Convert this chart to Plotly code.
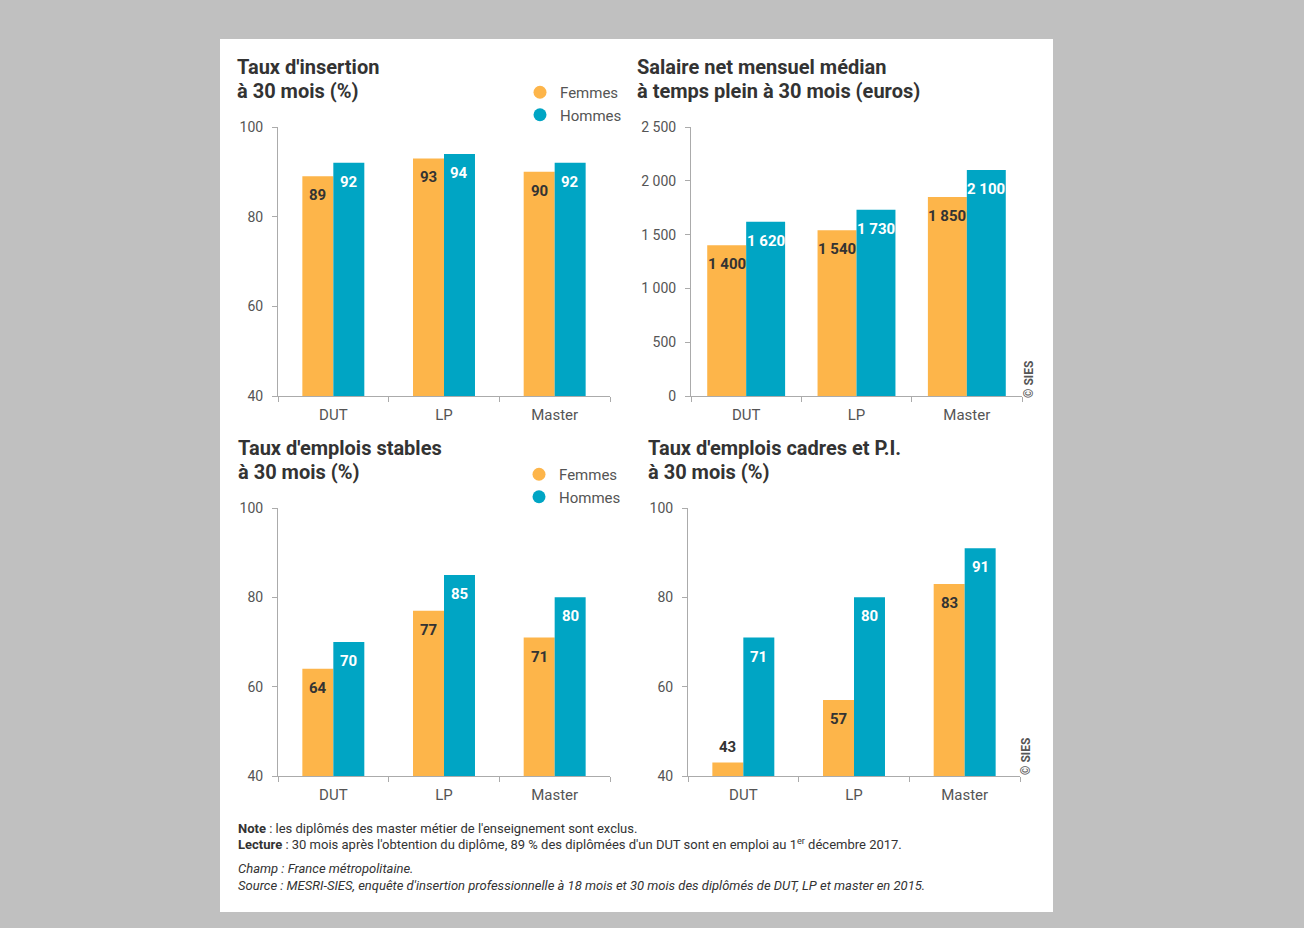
import plotly.graph_objects as go

# ---------------- data ----------------
categories = ["DUT", "LP", "Master"]
insertion_femmes = [89, 93, 90]
insertion_hommes = [92, 94, 92]
salaire_femmes = [1400, 1540, 1850]
salaire_hommes = [1620, 1730, 2100]
stables_femmes = [64, 77, 71]
stables_hommes = [70, 85, 80]
cadres_femmes = [43, 57, 83]
cadres_hommes = [71, 80, 91]

series_names = ["Femmes", "Hommes"]
titles = [
    ["Taux d'insertion", "à 30 mois (%)"],
    ["Salaire net mensuel médian", "à temps plein à 30 mois (euros)"],
    ["Taux d'emplois stables", "à 30 mois (%)"],
    ["Taux d'emplois cadres et P.I.", "à 30 mois (%)"],
]
footer_lines = [
    "<b>Note</b> : les diplômés des master métier de l'enseignement sont exclus.",
    "<b>Lecture</b> : 30 mois après l'obtention du diplôme, 89 % des diplômées d'un DUT sont en emploi au 1<sup>er</sup> décembre 2017.",
    "<i>Champ : France métropolitaine.</i>",
    "<i>Source : MESRI-SIES, enquête d'insertion professionnelle à 18 mois et 30 mois des diplômés de DUT, LP et master en 2015.</i>",
]

# ---------------- style ----------------
W, H = 1304, 928
ORANGE = "#FDB54A"
BLUE = "#00A5C4"
FONT = "Roboto"
DARK = "#333333"
GREY_TXT = "#555555"
AXIS_COL = "#ABABAB"


def fx(p):
    return p / W


def fy(p):
    return 1 - p / H


panels = [
    dict(f=insertion_femmes, h=insertion_hommes, xpx=(278, 610), ypx=(127, 396), rng=(40, 100), dtick=20, w=0.28,
         title_x=235, title_y=(67, 91), sep=False),
    dict(f=salaire_femmes, h=salaire_hommes, xpx=(691, 1022), ypx=(127, 396), rng=(0, 2500), dtick=500, w=0.353,
         title_x=635, title_y=(67, 91), sep=True),
    dict(f=stables_femmes, h=stables_hommes, xpx=(278, 610), ypx=(508, 776), rng=(40, 100), dtick=20, w=0.28,
         title_x=236, title_y=(448, 472), sep=False),
    dict(f=cadres_femmes, h=cadres_hommes, xpx=(688, 1020), ypx=(508, 776), rng=(40, 100), dtick=20, w=0.28,
         title_x=646, title_y=(448, 472), sep=False),
]

fig = go.Figure()
annotations = []
layout_axes = {}


def fmt(v):
    return f"{v:,}".replace(",", " ")


for i, p in enumerate(panels):
    n = "" if i == 0 else str(i + 1)
    xa, ya = "x" + n, "y" + n
    w = p["w"]
    fig.add_trace(go.Bar(x=categories, y=p["f"], width=w, offset=-w, marker=dict(color=ORANGE, line=dict(width=0)),
                         name=series_names[0], xaxis=xa, yaxis=ya, showlegend=False))
    fig.add_trace(go.Bar(x=categories, y=p["h"], width=w, offset=0, marker=dict(color=BLUE, line=dict(width=0)),
                         name=series_names[1], xaxis=xa, yaxis=ya, showlegend=False))

    dom_w = p["xpx"][1] - p["xpx"][0]
    dom_h = p["ypx"][1] - p["ypx"][0]
    bar_px = w * dom_w / 3
    r0, r1 = p["rng"]
    for vals, sgn, col in ((p["f"], -1, DARK), (p["h"], 1, "white")):
        for c, v in zip(categories, vals):
            hpx = (v - r0) / (r1 - r0) * dom_h
            inside = hpx > 32
            annotations.append(dict(
                x=c, y=v, xref=xa, yref=ya, showarrow=False, text=f"<b>{fmt(v)}</b>",
                xshift=sgn * bar_px / 2, yshift=-19 if inside else 16,
                font=dict(family=FONT, size=15, color=col if inside else DARK),
                xanchor="center", yanchor="middle"))

    layout_axes["xaxis" + n] = dict(
        domain=[fx(p["xpx"][0]), fx(p["xpx"][1])], anchor=ya, type="category", range=[-0.5, 2.5],
        showline=True, linecolor=AXIS_COL, linewidth=1, ticks="outside", tickson="boundaries",
        ticklen=5, tickcolor=AXIS_COL, showgrid=False, zeroline=False, automargin=False,
        ticklabelstandoff=5,
        tickfont=dict(family=FONT, size=15, color=GREY_TXT), fixedrange=True)
    layout_axes["yaxis" + n] = dict(
        domain=[fy(p["ypx"][1]), fy(p["ypx"][0])], anchor=xa, range=list(p["rng"]), dtick=p["dtick"],
        tick0=0, showline=True, linecolor=AXIS_COL, linewidth=1, ticks="outside", ticklen=5,
        tickcolor=AXIS_COL, showgrid=False, zeroline=False, separatethousands=p["sep"],
        ticklabelstandoff=6, automargin=False,
        tickfont=dict(family=FONT, size=14, color=GREY_TXT), fixedrange=True)

    for line, yp in zip(titles[i], p["title_y"]):
        annotations.append(dict(
            x=fx(p["title_x"]), y=fy(yp), xref="paper", yref="paper", showarrow=False,
            text=f"<b>{line}</b>", xanchor="left", yanchor="middle", align="left",
            font=dict(family=FONT, size=20, color=DARK)))

# legend entries (circle markers)
for leg, xa, ya in (("legend", "x", "y"), ("legend2", "x3", "y3")):
    for name, col in zip(series_names, (ORANGE, BLUE)):
        fig.add_trace(go.Scatter(x=[None], y=[None], mode="markers", name=name,
                                 marker=dict(color=col, size=13, symbol="circle"),
                                 xaxis=xa, yaxis=ya, legend=leg, showlegend=True))

# watermarks
for xp, yp in ((1029, 380), (1026, 757)):
    annotations.append(dict(x=fx(xp), y=fy(yp), xref="paper", yref="paper", showarrow=False,
                            text="<b>© SIES</b>", textangle=-90, xanchor="center", yanchor="middle",
                            font=dict(family=FONT, size=12, color=GREY_TXT)))

# footer
for txt, yp in zip(footer_lines, (828, 844, 868, 885)):
    annotations.append(dict(x=fx(236), y=fy(yp), xref="paper", yref="paper", showarrow=False,
                            text=txt, xanchor="left", yanchor="middle", align="left",
                            font=dict(family=FONT, size=13, color=DARK)))

legend_common = dict(xanchor="left", yanchor="top", bgcolor="rgba(0,0,0,0)",
                     font=dict(family=FONT, size=15, color=GREY_TXT), itemwidth=30,
                     tracegroupgap=0, orientation="v")

fig.update_layout(
    width=W, height=H, margin=dict(l=0, r=0, t=0, b=0, autoexpand=False),
    paper_bgcolor="#C0C0C0", plot_bgcolor="white",
    barmode="overlay", separators=", ",
    font=dict(family=FONT, color=DARK),
    shapes=[dict(type="rect", xref="paper", yref="paper", x0=fx(220), x1=fx(1053), y0=fy(912), y1=fy(39),
                 fillcolor="white", line=dict(width=0), layer="below")],
    annotations=annotations,
    legend=dict(x=fx(520), y=fy(76), **legend_common),
    legend2=dict(x=fx(519), y=fy(458), **legend_common),
    **layout_axes,
)

fig.write_html("out.html")
